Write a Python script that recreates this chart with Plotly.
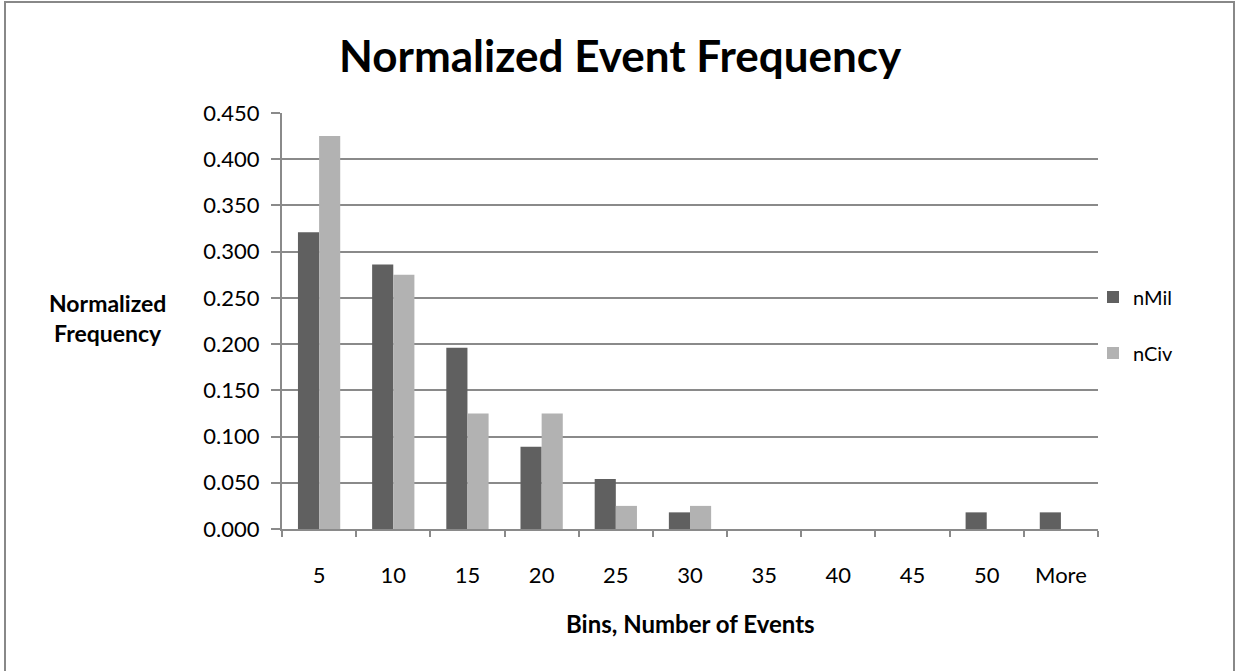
import plotly.graph_objects as go

# Histogram bins and normalized frequencies
bins = ["5", "10", "15", "20", "25", "30", "35", "40", "45", "50", "More"]
n_mil = [0.321, 0.286, 0.196, 0.089, 0.054, 0.018, 0.0, 0.0, 0.0, 0.018, 0.018]
n_civ = [0.425, 0.275, 0.125, 0.125, 0.025, 0.025, 0.0, 0.0, 0.0, 0.0, 0.0]
y_ticks = [0.0, 0.05, 0.10, 0.15, 0.20, 0.25, 0.30, 0.35, 0.40, 0.45]

FONT = "Lato"
GRID = "#8a8a8a"

fig = go.Figure()
fig.add_trace(go.Bar(x=bins, y=n_mil, name="nMil", marker=dict(color="#606060", line_width=0),
                     legendgroup="a"))
fig.add_trace(go.Bar(x=bins, y=n_civ, name="nCiv", marker=dict(color="#b2b2b2", line_width=0),
                     legendgroup="b"))

L, R, T, B = 282, 1098, 113, 529
W, H = 1236, 671
pw, ph = R - L, B - T

def px_x(x):
    return (x - L) / pw

def px_y(y):
    return (B - y) / ph

fig.update_layout(
    width=W, height=H,
    margin=dict(l=L, r=W - R, t=T, b=H - B),
    paper_bgcolor="white", plot_bgcolor="white",
    font=dict(family=FONT, size=22, color="black"),
    barmode="group", bargap=0.43, bargroupgap=0,
    showlegend=True,
    legend=dict(x=px_x(1093), y=px_y(325), xanchor="left", yanchor="middle",
                font=dict(size=20), tracegroupgap=27, bgcolor="rgba(0,0,0,0)"),
    xaxis=dict(type="category", showgrid=False, showline=True, linecolor=GRID, linewidth=2,
               ticks="outside", ticklen=6, tickcolor=GRID, tickwidth=2,
               tickson="boundaries", ticklabelstandoff=26, tickfont=dict(size=22),
               range=[-0.5, 10.5]),
    yaxis=dict(range=[0, 0.45], tickvals=y_ticks, tickformat=".3f",
               showgrid=True, gridcolor=GRID, gridwidth=2,
               showline=True, linecolor=GRID, linewidth=2,
               ticks="outside", ticklen=9, tickcolor=GRID, tickwidth=2,
               ticklabelstandoff=7, tickfont=dict(size=22), zeroline=False),
    annotations=[
        dict(text="<b>Normalized Event Frequency</b>", xref="paper", yref="paper",
             x=px_x(620), y=px_y(55), showarrow=False, font=dict(size=44),
             xanchor="center", yanchor="middle"),
        dict(text="<b>Normalized<br>Frequency</b>", xref="paper", yref="paper",
             x=px_x(107), y=px_y(318), showarrow=False, font=dict(size=23),
             xanchor="center", yanchor="middle", align="center"),
        dict(text="<b>Bins, Number of Events</b>", xref="paper", yref="paper",
             x=px_x(690), y=px_y(623), showarrow=False, font=dict(size=24),
             xanchor="center", yanchor="middle"),
    ],
    shapes=[
        dict(type="rect", xref="paper", yref="paper",
             x0=px_x(5), x1=px_x(1234), y0=px_y(680), y1=px_y(2),
             line=dict(color="#888888", width=2), layer="below"),
    ],
)

fig.write_html("out.html")
